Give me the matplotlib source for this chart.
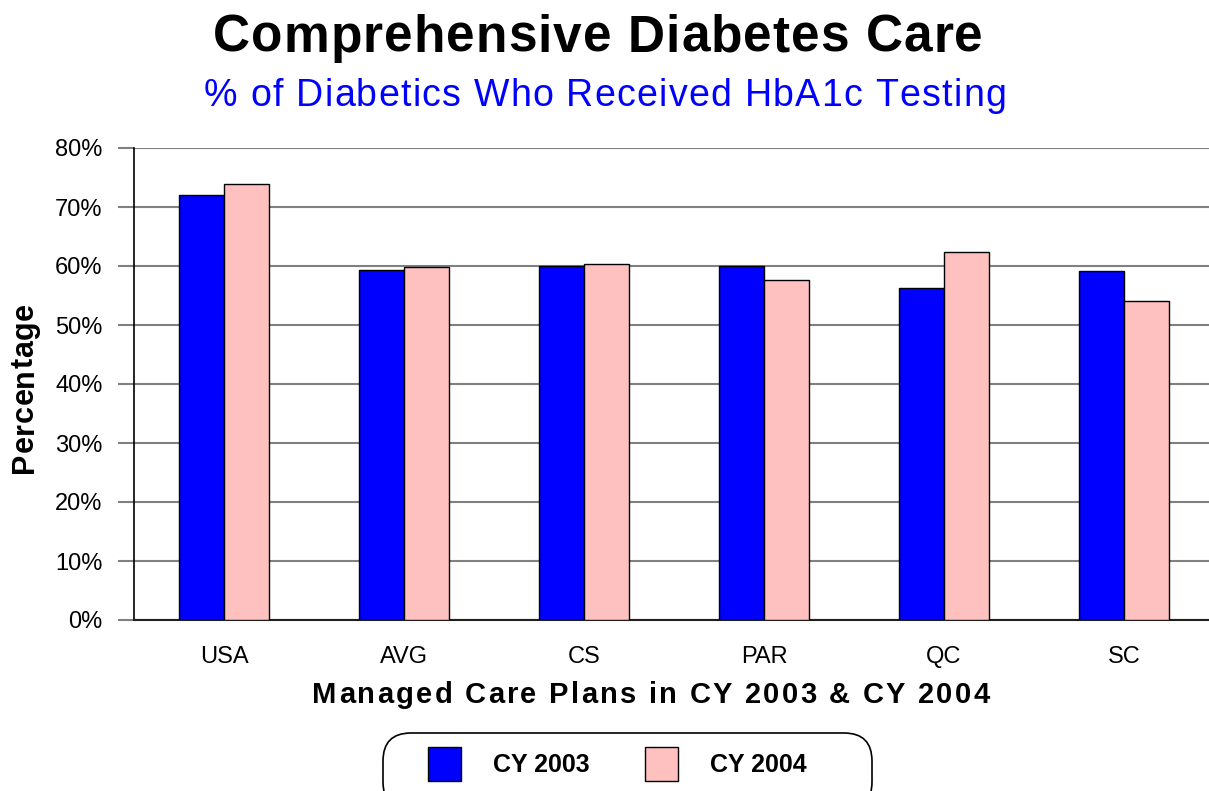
"""
Comprehensive Diabetes Care: % of diabetics who received HbA1c testing,
by managed care plan, CY 2003 vs CY 2004.
"""

import numpy as np
import matplotlib.pyplot as plt
from matplotlib import font_manager
from matplotlib.ft2font import FT2Font
from matplotlib.patches import Patch, FancyBboxPatch
from matplotlib.ticker import PercentFormatter
from matplotlib.transforms import IdentityTransform

plt.rcParams["font.family"] = ["Liberation Sans", "DejaVu Sans"]

# Data
plans = ["USA", "AVG", "CS", "PAR", "QC", "SC"]
cy2003 = [72.0, 59.3, 60.0, 60.0, 56.3, 59.2]
cy2004 = [73.9, 59.8, 60.4, 57.6, 62.4, 54.1]
yticks = [0, 10, 20, 30, 40, 50, 60, 70, 80]
series_names = ["CY 2003", "CY 2004"]

blue = "#0000ff"
pink = "#ffc0c0"
W, H = 1209, 791

fig = plt.figure(figsize=(W / 100, H / 100), dpi=100)
ax = fig.add_axes([134 / W, (H - 620) / H, 1080 / W, 472 / H])


def spaced_text(s, cx, cy, size, width, weight="normal", color="black", rotation=0):
    """Letter-spaced text, centred on pixel cx (or cy when rotated), stretched to `width` px."""
    path = font_manager.findfont(font_manager.FontProperties(family="Liberation Sans", weight=weight))
    ft = FT2Font(path)
    ft.set_size(size, 100)
    adv = [ft.load_char(ord(c)).linearHoriAdvance / 65536 for c in s]
    gap = (width - sum(adv)) / (len(s) - 1)
    pos = -width / 2
    for c, a in zip(s, adv):
        if rotation == 0:
            xy = (cx + pos, H - cy)
        else:
            xy = (cx, H - cy + pos)
        fig.text(*xy, c, transform=IdentityTransform(), ha="left", va="baseline",
                 rotation=rotation, rotation_mode="anchor", fontsize=size,
                 fontweight=weight, color=color)
        pos += a + gap


x = np.arange(len(plans))
bw = 0.25
ax.bar(x - bw / 2, cy2003, bw, color=blue, edgecolor="black", linewidth=1.0, zorder=3)
ax.bar(x + bw / 2, cy2004, bw, color=pink, edgecolor="black", linewidth=1.0, zorder=3)

ax.set_xlim(-0.5, len(plans) - 0.5)
ax.set_ylim(0, 80)
ax.set_yticks(yticks)
ax.yaxis.set_major_formatter(PercentFormatter(decimals=0))
ax.set_xticks(x)
ax.set_xticklabels(plans)

ax.grid(axis="y", color="#808080", linewidth=1.5, zorder=0)
ax.tick_params(axis="y", length=11.5, width=1.5, color="#808080", pad=11, labelsize=17)
ax.tick_params(axis="x", length=0, pad=19, labelsize=17)
for side in ["top", "right"]:
    ax.spines[side].set_visible(False)
ax.spines["left"].set_linewidth(1.2)
ax.spines["bottom"].set_color("#202020")
ax.spines["bottom"].set_linewidth(1.5)

# Titles and axis labels (the original uses slightly wide letter spacing)
spaced_text("Comprehensive Diabetes Care", 598, 52, 37, 770, weight="bold")
spaced_text("% of Diabetics Who Received HbA1c Testing", 605, 106, 27, 802, color=blue)
spaced_text("Managed Care Plans in CY 2003 & CY 2004", 651, 703, 21, 677, weight="bold")
spaced_text("Percentage", 33, 388, 22, 170, weight="bold", rotation=90)

# Legend: rounded frame that runs off the bottom edge
frame = FancyBboxPatch((383, H - 810), 489, 77, boxstyle="round,pad=0,rounding_size=28",
                       transform=IdentityTransform(), facecolor="white", edgecolor="black",
                       linewidth=1.2, zorder=1)
fig.patches.append(frame)
handles = [Patch(facecolor=blue, edgecolor="black"), Patch(facecolor=pink, edgecolor="black")]
leg = fig.legend(handles, series_names, loc="center",
                 bbox_to_anchor=(617 / W, 1 - 764 / H), ncol=2, frameon=False,
                 prop={"weight": "bold", "size": 18},
                 handlelength=1.32, handleheight=1.75, handletextpad=1.28,
                 columnspacing=2.2, borderpad=0, borderaxespad=0)
leg.set_zorder(2)

fig.savefig("out.png", dpi=100)
